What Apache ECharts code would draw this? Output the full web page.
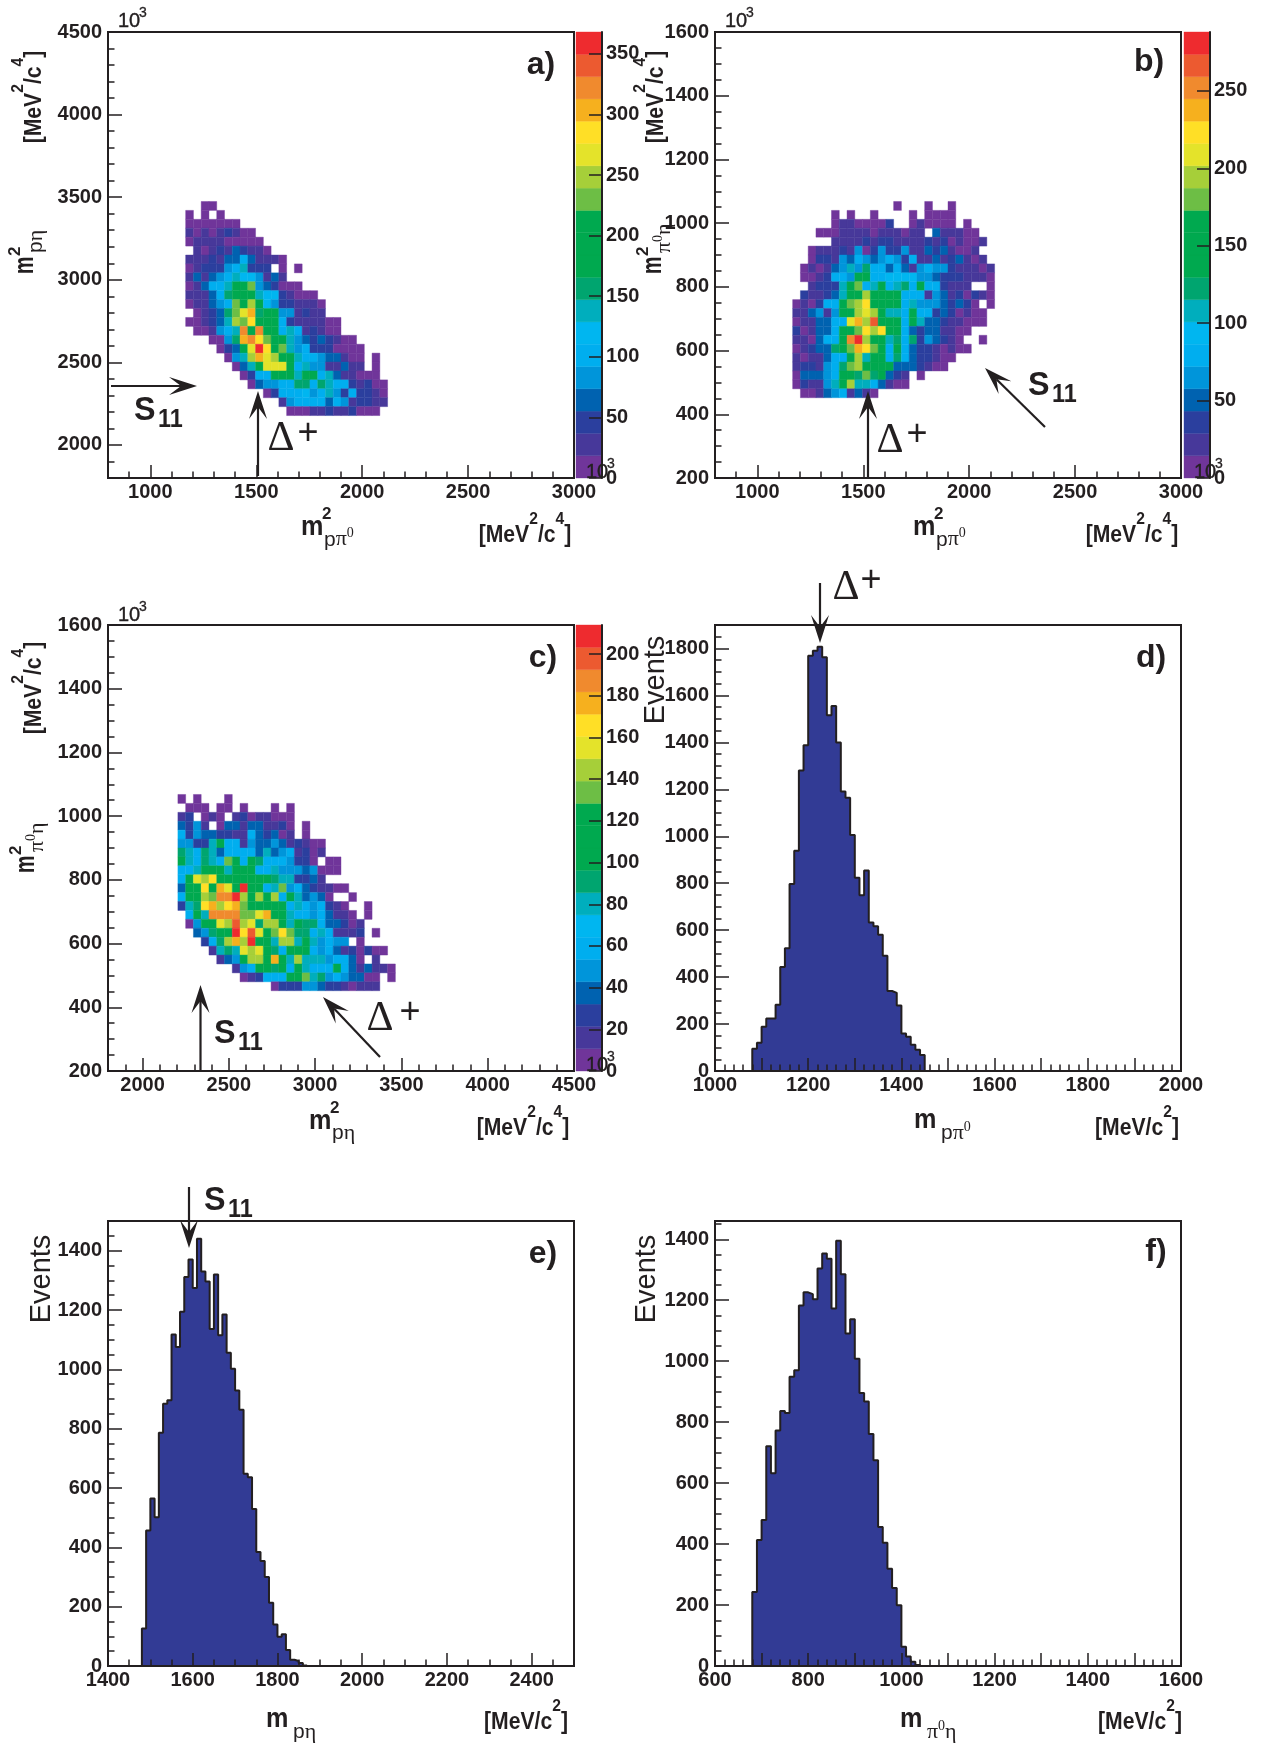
<!DOCTYPE html>
<html><head><meta charset="utf-8">
<style>html,body{margin:0;padding:0;background:#fff}#c{width:1266px;height:1744px}</style>
<script src="https://cdn.jsdelivr.net/npm/echarts@6/dist/echarts.min.js"></script>
</head><body><div id="c"></div>
<script>
// colour scale bands, bottom to top (ROOT palette, 20 contours)
const paletteBands = ['#70359a','#47389a','#2b3f9e','#0062b0','#0095da','#00aeef','#00b6f0','#00aebd','#00a56f','#00a94f','#00a94f','#00a94f','#6dbe45','#a6cf39','#e4e32a','#ffdf26','#f6b01e','#f08a2e','#ec5a30','#ee2b2f'];
// Cell contents per row (top row first): base-36 digit = colour band, '.' = empty bin
const heatA = [
"..00",
"0.0.0",
"0000000",
"101012100",
"0111100000",
".1012132110",
"1112133531110",
"01222457222.0.0",
"1313457664131",
"01355799c432000",
"11135899976621000",
"011345c9d964221110",
".01238ceg899441211",
"001237dcf99952111100",
".001457h9h9957512100",
"...0048ghfc99743232100",
"....0239ejf9c7452220000",
".....047dged99755433100.0",
"......0379eee9574411311.0",
".......025599979957311000",
"........034455885875521200",
"..........0255564574252210",
"............14555535412211",
".............000112112000"];
const heatB = [
".............0...0..0",
".....0.0..0....0.0000",
".....01100002..010000.0",
"...00011110111011.311100",
".....11112122111121201001",
"..0111214024224113231001",
"..02214354345425113123101",
".0101347485535314544211101",
".0012554995566664432221110",
"..122279c57957859552111..0",
".21123799d9999555143120210",
"0102559cdf99995744432320.0",
"11341499ded97759552320100",
"0113355egdi99959733211000",
"20133599cfdf99532331100",
"1103559hjd997858243210..0",
"0123389cgfc959532210100",
"10113559d799585322100",
"1221458cd99993332100",
"033345998c89321.0",
"0211479d7753100",
".0013451310"];
const heatC = [
"0.0...0",
".000.00.0...0.0",
"12.010.12011000",
"3241.0331331120.0",
"524332211532301.0",
"4422795514334312100",
"8758735555373451201",
"975875c95985554220.00",
"557999799955744434000",
"59edf99999998772231",
"399f9ge9j9957c45321100",
"599dchhjd9d9d5973430..0",
"278fgdfgc9999957545210..0",
".597hhhhcceg99755453110.0",
".0499edide8dd97988533201",
"..34899jfie9cfc885751112.0",
"...258dgdj997dd7974544.0",
"....1787ede9859995453120200",
".....1349dd9g97d77745530.1",
".......145998959755595313110",
"........01255599c784543300.0",
"............02224432210111"];
const scaleMaxA = 368, scaleMaxB = 288, scaleMaxC = 214;
// 1D histograms: counts per bin, first bin edge and bin width
const histD = [95,120,188,224,224,282,443,523,797,938,1280,1388,1769,1790,1807,1763,1515,1555,1399,1191,1164,1005,823,749,854,633,617,580,491,341,333,279,160,146,112,91,68];
const histE = [126,457,565,501,786,884,896,1117,1075,1194,1311,1370,1274,1440,1330,1296,1136,1320,1115,1185,1056,1002,929,864,648,636,529,384,354,300,213,140,99,107,54,21,17,10,2];
const histF = [243,413,479,721,632,773,837,830,949,970,1183,1226,1220,1203,1304,1353,1336,1173,1395,1285,1091,1138,1008,896,868,761,675,456,404,319,256,199,63,31,14,3];
const startD = 1080, startE = 1480, startF = 680, binWidth = 10;
// Tick values
const range = (a,b,s)=>{const r=[];for(let v=a;v<=b+1e-9;v+=s)r.push(v);return r;};
const ink = '#231f20', font = '"Liberation Sans", Arial, sans-serif';
const panels = [
 {id:'a',box:[108,32,466,446],x:[800,3000],y:[1800,4500],xLab:range(1000,3000,500),xTall:range(1000,3000,500),xMin:range(900,3000,100),yLab:range(2000,4500,500),yMin:range(1800,4500,100),heat:heatA,col0:10,cols:60,row0:7,rows:50,smax:scaleMaxA,sTicks:range(0,350,50),bar:[576,26]},
 {id:'b',box:[715,32,466,446],x:[800,3000],y:[200,1600],xLab:range(1000,3000,500),xTall:range(1000,3000,500),xMin:range(900,3000,100),yLab:range(200,1600,200),yMin:range(200,1600,50),heat:heatB,col0:10,cols:60,row0:9,rows:50,smax:scaleMaxB,sTicks:range(0,250,50),bar:[1184,26]},
 {id:'c',box:[108,625,466,446],x:[1800,4500],y:[200,1600],xLab:range(2000,4500,500),xTall:range(2000,4500,500),xMin:range(1800,4500,100),yLab:range(200,1600,200),yMin:range(200,1600,50),heat:heatC,col0:9,cols:60,row0:9,rows:50,smax:scaleMaxC,sTicks:range(0,200,20),bar:[576,26]},
 {id:'d',box:[715,625,466,446],x:[1000,2000],y:[0,1900],xLab:range(1000,2000,200),xTall:range(1000,2000,100),xMin:range(1000,2000,20),yLab:range(0,1800,200),yMin:range(0,1900,50),hist:histD,start:startD},
 {id:'e',box:[108,1221,466,445],x:[1400,2500],y:[0,1500],xLab:range(1400,2400,200),xTall:range(1400,2400,200),xMin:range(1400,2500,50),yLab:range(0,1400,200),yMin:range(0,1500,50),hist:histE,start:startE},
 {id:'f',box:[715,1221,466,445],x:[600,1600],y:[0,1460],xLab:range(600,1600,200),xTall:range(600,1600,100),xMin:range(600,1600,20),yLab:range(0,1400,200),yMin:range(0,1450,50),hist:histF,start:startF}
];
const grid=[],xAxis=[],yAxis=[],series=[];
const lblStyle={fontFamily:font,fontWeight:'bold',fontSize:20,color:ink};
function addAxes(p,gi){
  const base={gridIndex:gi,z:5,splitLine:{show:false}};
  const xi=xAxis.length, yi=yAxis.length;
  xAxis.push({...base,type:'value',position:'bottom',min:p.x[0],max:p.x[1],axisLine:{onZero:false,lineStyle:{color:ink,width:2}},
    axisTick:{inside:true,length:13,lineStyle:{color:ink,width:1.5},customValues:p.xTall},
    axisLabel:{...lblStyle,margin:4,customValues:p.xLab,formatter:v=>String(v)}});
  xAxis.push({...base,type:'value',position:'bottom',min:p.x[0],max:p.x[1],axisLine:{show:false,onZero:false},
    axisTick:{inside:true,length:6.5,lineStyle:{color:ink,width:1.5},customValues:p.xMin},axisLabel:{show:false}});
  yAxis.push({...base,type:'value',position:'left',min:p.y[0],max:p.y[1],axisLine:{onZero:false,lineStyle:{color:ink,width:2}},
    axisTick:{inside:true,length:14,lineStyle:{color:ink,width:1.5},customValues:p.yLab},
    axisLabel:{...lblStyle,margin:6,customValues:p.yLab,formatter:v=>String(v)}});
  yAxis.push({...base,type:'value',position:'left',min:p.y[0],max:p.y[1],axisLine:{show:false,onZero:false},
    axisTick:{inside:true,length:6.5,lineStyle:{color:ink,width:1.5},customValues:p.yMin},axisLabel:{show:false}});
  return [xi,yi];
}
function rectItem(params,api){
  const a=api.coord([api.value(0),api.value(1)]), b=api.coord([api.value(2),api.value(3)]);
  const c=paletteBands[api.value(4)];
  return {type:'rect',shape:{x:Math.min(a[0],b[0]),y:Math.min(a[1],b[1]),width:Math.abs(b[0]-a[0]),height:Math.abs(b[1]-a[1])},
    style:{fill:c,stroke:c,lineWidth:0.4}};
}
panels.forEach(p=>{
  const gi=grid.length;
  grid.push({left:p.box[0],top:p.box[1],width:p.box[2],height:p.box[3],show:true,borderColor:ink,borderWidth:2,backgroundColor:'#fff',containLabel:false});
  const [xi,yi]=addAxes(p,gi);
  if(p.heat){
    const w=(p.x[1]-p.x[0])/p.cols,h=(p.y[1]-p.y[0])/p.rows,data=[];
    p.heat.forEach((row,r)=>{
      const yb=p.row0+p.heat.length-1-r;
      [...row].forEach((ch,k)=>{ if(ch==='.')return;
        const band=parseInt(ch,36), xb=p.col0+k;
        data.push([p.x[0]+xb*w,p.y[0]+yb*h,p.x[0]+(xb+1)*w,p.y[0]+(yb+1)*h,band]);
      });
    });
    series.push({type:'custom',name:'cells '+p.id,xAxisIndex:xi,yAxisIndex:yi,data,renderItem:rectItem,encode:{x:[0,2],y:[1,3]},silent:true,z:2,animation:false});
    // colour scale
    const bg=grid.length;
    grid.push({left:p.bar[0],top:p.box[1],width:p.bar[1],height:p.box[3]});
    const bx=xAxis.length,by=yAxis.length;
    xAxis.push({gridIndex:bg,type:'value',min:0,max:1,show:false});
    yAxis.push({gridIndex:bg,type:'value',position:'right',min:0,max:p.smax,z:5,splitLine:{show:false},
      axisLine:{onZero:false,lineStyle:{color:ink,width:2}},
      axisTick:{inside:true,length:13,lineStyle:{color:ink,width:1.5},customValues:p.sTicks},
      axisLabel:{...lblStyle,margin:4,customValues:p.sTicks,formatter:v=>String(v)}});
    series.push({type:'custom',name:'scale '+p.id,xAxisIndex:bx,yAxisIndex:by,renderItem:rectItem,encode:{x:[0,2],y:[1,3]},silent:true,z:2,animation:false,
      data:paletteBands.map((c,i)=>[0,i*p.smax/20,1,(i+1)*p.smax/20,i])});
  } else {
    const pts=[[p.start,0]];
    p.hist.forEach((v,i)=>pts.push([p.start+i*binWidth,v]));
    pts.push([p.start+p.hist.length*binWidth,0]);
    series.push({type:'line',name:'hist '+p.id,xAxisIndex:xi,yAxisIndex:yi,data:pts,step:'end',symbol:'none',silent:true,z:2,animation:false,
      lineStyle:{color:ink,width:2},areaStyle:{color:'#323b95',opacity:1}});
  }
});

// ---- annotation text & arrows ----
const g=[];
function txt(x,y,text,o={}){
  return {type:'text',x,y,z:100,silent:true,rotation:o.rot||0,scaleX:o.sx||1,style:{text,fontFamily:o.family||font,fontWeight:o.weight||'bold',fontSize:o.size||20,fill:ink,
    stroke:o.stroke?ink:null,lineWidth:o.stroke||0,align:o.align||'left',verticalAlign:'middle',rich:o.rich}};
}
const supRich={b:{fontFamily:font,fontWeight:'bold',fontSize:23,color:ink,verticalAlign:'bottom',lineHeight:36},s:{fontFamily:font,fontWeight:'bold',fontSize:17,color:ink,verticalAlign:'top',lineHeight:20}};
function unitsXY(x,y,rot){
  // text sits below the centre of its tall rich line, so pull it back across the reading direction
  const px=rot?x-5:x, py=rot?y:y-5;
  g.push(txt(px,py,'{b|[MeV}{s|2}{b|/c}{s|4}{b|]}',{align:'center',rot,rich:supRich,sx:0.92}));
}
function units2(x,y){
  g.push(txt(x,y-5,'{b|[MeV/c}{s|2}{b|]}',{align:'center',rich:supRich,sx:0.92}));
}
const subRich={n:{fontFamily:font,fontWeight:'normal',fontSize:21,color:ink,verticalAlign:'bottom',lineHeight:24},g:{fontFamily:'"Liberation Serif",serif',fontWeight:'normal',fontSize:22,color:ink,verticalAlign:'bottom',lineHeight:24},o:{fontFamily:'"Liberation Serif",serif',fontWeight:'normal',fontSize:14,color:ink,verticalAlign:'top',lineHeight:14}};
function mLabel(x,y,sub,sq,rot){
  const r=!!rot, kids=[txt(0,0,'m',{size:28,sx:r?0.7:0.9})];
  if(sq) kids.push(txt(r?18:21,r?-10:-13,'2',{size:17}));
  kids.push(txt(r?21:(sq?23:27),r?10:(sq?11:12),sub,{rich:subRich}));
  g.push({type:'group',x,y,rotation:rot||0,z:100,children:kids});
}
const PE='{n|p}{g|η}', PP='{n|p}{g|π}{o|0}', NE='{g|π}{o|0}{g|η}';
const UP=Math.PI/2;
function power3(x,y){ g.push(txt(x,y,'10',{weight:'normal',size:20,stroke:0.4})); g.push(txt(x+21,y-8,'3',{weight:'normal',size:14,stroke:0.3})); }
function S11(x,y){ g.push(txt(x,y+2,'S',{size:34,sx:0.95})); g.push(txt(x+24,y+11,'11',{size:26,sx:0.9})); }
function Delta(xd,yd,xp,yp){ g.push(txt(xd,yd+1,'Δ',{family:'"Liberation Serif",serif',weight:'normal',size:42,align:'center'})); g.push(txt(xp,yp+3,'+',{weight:'normal',size:36,align:'center'})); }
function arrow(x1,y1,x2,y2){
  const a=Math.atan2(y2-y1,x2-x1),L=28,W=9,N=16,c=Math.cos(a),s=Math.sin(a);
  const P=(l,t)=>[x2-l*c-t*s,y2-l*s+t*c];
  g.push({type:'line',z:100,silent:true,shape:{x1,y1,x2:P(N,0)[0],y2:P(N,0)[1]},style:{stroke:ink,lineWidth:2.2}});
  g.push({type:'polygon',z:100,silent:true,shape:{points:[[x2,y2],P(L,W),P(N,0),P(L,-W)]},style:{fill:ink}});
}
// tags
[['a)',541,65],['b)',1149,62],['c)',543,658],['d)',1151,658],['e)',543,1254],['f)',1156,1252]].forEach(t=>g.push(txt(t[1],t[2],t[0],{size:32,align:'center'})));
// power-of-ten marks
power3(118,21);power3(725,21);power3(118,615);
power3(586,472);power3(1194,472);power3(586,1065);
// axis titles
mLabel(301,527.5,PP,true); unitsXY(525,534);
mLabel(913,527.5,PP,true); unitsXY(1132,534);
mLabel(309,1121,PE,true); unitsXY(523,1127);
mLabel(914,1120,PP,false); units2(1137,1127);
mLabel(266,1719,PE,false); units2(526,1721);
mLabel(900,1719,NE,false); units2(1140,1721);
mLabel(25,274,PE,true,UP); unitsXY(33,97,UP);
mLabel(653,274,NE,true,UP); unitsXY(655,97,UP);
mLabel(26,873,NE,true,UP); unitsXY(33,688,UP);
g.push(txt(656,680,'Events',{weight:'normal',size:29,align:'center',rot:UP}));
g.push(txt(42,1279,'Events',{weight:'normal',size:29,align:'center',rot:UP}));
g.push(txt(647,1279,'Events',{weight:'normal',size:29,align:'center',rot:UP}));
// arrows and resonance marks
arrow(111,386,197,386); S11(134,409);
arrow(258,476,258,391); Delta(281,438,308,431);
arrow(868,478,868,391); Delta(890,440,917,432);
arrow(1045,427,985,368); S11(1028,384);
arrow(200.5,1071,200.5,985); S11(214,1032);
arrow(380,1057,323,997); Delta(380,1018,410,1010);
arrow(820,583,820,643); Delta(846,587,871,578);
arrow(189,1187,189,1248); S11(204,1199);

const chart=echarts.init(document.getElementById('c'),null,{renderer:'canvas',width:1266,height:1744});
chart.setOption({animation:false,backgroundColor:'#fff',grid,xAxis,yAxis,series,graphic:{elements:g}});
</script></body></html>
